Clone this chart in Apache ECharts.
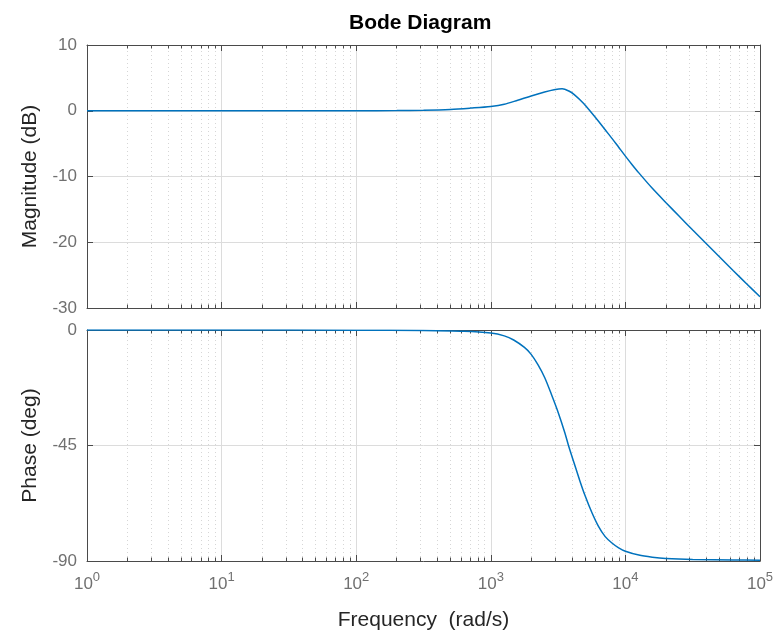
<!DOCTYPE html>
<html>
<head>
<meta charset="utf-8">
<script src="https://cdn.jsdelivr.net/npm/echarts@6/dist/echarts.min.js"></script>
<style>
  html, body { margin: 0; padding: 0; background: #ffffff; }
  #chart { width: 781px; height: 634px; }
</style>
</head>
<body>
<div id="chart"></div>
<script>
// Frequency response samples (rad/s) and magnitude (dB)
const freqMag = [1, 3.16, 10, 31.6, 100, 200, 316, 501, 708, 1000, 1259, 1585, 1995, 2512, 2951, 3388, 3802, 4169, 4898, 5623, 6310, 7079, 7943, 8913, 10000, 11220, 12589, 15849, 19953, 25119, 31623, 39811, 50119, 63096, 79433, 100000];
const magDb   = [0, 0, 0, 0, 0.01, 0.03, 0.08, 0.2, 0.4, 0.65, 0.98, 1.6, 2.25, 2.85, 3.2, 3.35, 3.0, 2.45, 1.1, -0.35, -1.6, -2.9, -4.2, -5.55, -6.9, -8.2, -9.45, -11.8, -13.95, -16.05, -18.15, -20.2, -22.25, -24.3, -26.3, -28.3];

// Frequency samples (rad/s) and phase (deg)
const freqPhase = [1, 10, 100, 316, 631, 1000, 1259, 1479, 1778, 1995, 2239, 2512, 2818, 3162, 3548, 3802, 4169, 4571, 5012, 5623, 6310, 7079, 7943, 8913, 10000, 12589, 15849, 19953, 31623, 63096, 100000];
const phaseDeg  = [0, 0, -0.05, -0.2, -0.5, -1.2, -2.3, -3.9, -6.8, -9.5, -13.5, -18.5, -25, -32, -40, -45.5, -52, -58.5, -64.5, -71, -76.5, -80.5, -83, -84.9, -86.2, -87.7, -88.5, -89, -89.4, -89.6, -89.7];

// Axis ticks
const freqTicks  = [1, 10, 100, 1000, 10000, 100000];
const magTicks   = [-30, -20, -10, 0, 10];
const phaseTicks = [-90, -45, 0];

const FONT = '"Liberation Sans", Arial, Helvetica, sans-serif';
const TICK_COLOR = '#707070';
const BOX_COLOR = '#4a4a4a';
const LINE_COLOR = '#0072BD';

const fMin = freqTicks[0], fMax = freqTicks[freqTicks.length - 1];

// Minor frequency gridlines at 2..9 x 10^k
const minorFreqs = [];
for (let k = 0; k < freqTicks.length - 1; k++) {
  for (let m = 2; m <= 9; m++) minorFreqs.push(m * freqTicks[k]);
}

function pairs(xs, ys) { return xs.map((x, i) => [x, ys[i]]); }

function minorLines() {
  return minorFreqs.map(f => ({ xAxis: f }));
}
function minorTickSegs(yMin, yMax, lenFrac) {
  const d = (yMax - yMin) * lenFrac;
  const segs = [];
  minorFreqs.forEach(f => {
    segs.push([{ coord: [f, yMin] }, { coord: [f, yMin + d] }]);
    segs.push([{ coord: [f, yMax] }, { coord: [f, yMax - d] }]);
  });
  return segs;
}

function xAxisCfg(gridIndex, position, showLabels) {
  return {
    type: 'log', logBase: 10, gridIndex, position,
    min: fMin, max: fMax,
    axisLine: { show: true, onZero: false, lineStyle: { color: BOX_COLOR, width: 1 } },
    axisTick: { show: true, inside: true, length: 6, lineStyle: { color: BOX_COLOR } },
    splitLine: { show: position === 'bottom', lineStyle: { color: '#dcdcdc', width: 1 } },
    minorTick: { show: false },
    axisLabel: {
      show: showLabels,
      margin: 10,
      showMinLabel: true, showMaxLabel: true,
      formatter: v => '{b|10}{s|' + Math.round(Math.log10(v)) + '}',
      rich: {
        b: { fontSize: 17, fontFamily: FONT, color: TICK_COLOR, lineHeight: 22, verticalAlign: 'bottom' },
        s: { fontSize: 13, fontFamily: FONT, color: TICK_COLOR, lineHeight: 12, verticalAlign: 'top' }
      }
    }
  };
}

function yAxisCfg(gridIndex, position, ticks, name) {
  const step = ticks[1] - ticks[0];
  return {
    type: 'value', gridIndex, position,
    min: ticks[0], max: ticks[ticks.length - 1], interval: step,
    name: name || '',
    nameLocation: 'middle', nameGap: 46,
    nameTextStyle: { fontSize: 21, fontFamily: FONT, color: '#262626' },
    axisLine: { show: true, onZero: false, lineStyle: { color: BOX_COLOR, width: 1 } },
    axisTick: { show: true, inside: true, length: 6, lineStyle: { color: BOX_COLOR } },
    splitLine: { show: position === 'left', lineStyle: { color: '#dcdcdc', width: 1 } },
    axisLabel: {
      show: position === 'left', margin: 10,
      fontSize: 17, fontFamily: FONT, color: TICK_COLOR,
      showMinLabel: true, showMaxLabel: true
    }
  };
}

const gridLineStyle = { color: '#d6d6d6', type: [1, 3], width: 1 };
const tickStyle = { color: BOX_COLOR, type: 'solid', width: 1 };

function helperSeries(name, xi, yi, z, style, data) {
  return {
    name, type: 'line', xAxisIndex: xi, yAxisIndex: yi, data: [], z, silent: true,
    markLine: { silent: true, symbol: 'none', label: { show: false }, animation: false, lineStyle: style, data }
  };
}

const option = {
  animation: false,
  backgroundColor: '#ffffff',
  title: {
    text: 'Bode Diagram',
    left: 344, top: 8,
    textStyle: { fontSize: 21, fontWeight: 'bold', fontFamily: FONT, color: '#000000' }
  },
  grid: [
    { left: 87, top: 45, width: 673, height: 263 },
    { left: 87, top: 330, width: 673, height: 231 }
  ],
  xAxis: [
    xAxisCfg(0, 'bottom', false),
    Object.assign(xAxisCfg(1, 'bottom', true), {
      name: 'Frequency  (rad/s)', nameLocation: 'middle', nameGap: 49,
      nameTextStyle: { fontSize: 21, fontFamily: FONT, color: '#262626' }
    }),
    xAxisCfg(0, 'top', false),
    xAxisCfg(1, 'top', false)
  ],
  yAxis: [
    yAxisCfg(0, 'left', magTicks, 'Magnitude (dB)'),
    yAxisCfg(1, 'left', phaseTicks, 'Phase (deg)'),
    yAxisCfg(0, 'right', magTicks),
    yAxisCfg(1, 'right', phaseTicks)
  ],
  series: [
    helperSeries('minor-mag', 0, 0, 1, gridLineStyle, minorLines()),
    helperSeries('minor-mag-ticks', 0, 0, 3, tickStyle,
      minorTickSegs(magTicks[0], magTicks[magTicks.length - 1], 3.5 / 263)),
    helperSeries('minor-phase', 1, 1, 1, gridLineStyle, minorLines()),
    helperSeries('minor-phase-ticks', 1, 1, 3, tickStyle,
      minorTickSegs(phaseTicks[0], phaseTicks[phaseTicks.length - 1], 3.5 / 231)),
    {
      name: 'Magnitude', type: 'line', xAxisIndex: 0, yAxisIndex: 0, z: 5,
      data: pairs(freqMag, magDb), smooth: 0.3, showSymbol: false,
      lineStyle: { color: LINE_COLOR, width: 1.5 }
    },
    {
      name: 'Phase', type: 'line', xAxisIndex: 1, yAxisIndex: 1, z: 5,
      data: pairs(freqPhase, phaseDeg), smooth: 0.3, showSymbol: false,
      lineStyle: { color: LINE_COLOR, width: 1.5 }
    }
  ]
};

const chart = echarts.init(document.getElementById('chart'), null, { renderer: 'canvas' });
chart.setOption(option);
</script>
</body>
</html>
